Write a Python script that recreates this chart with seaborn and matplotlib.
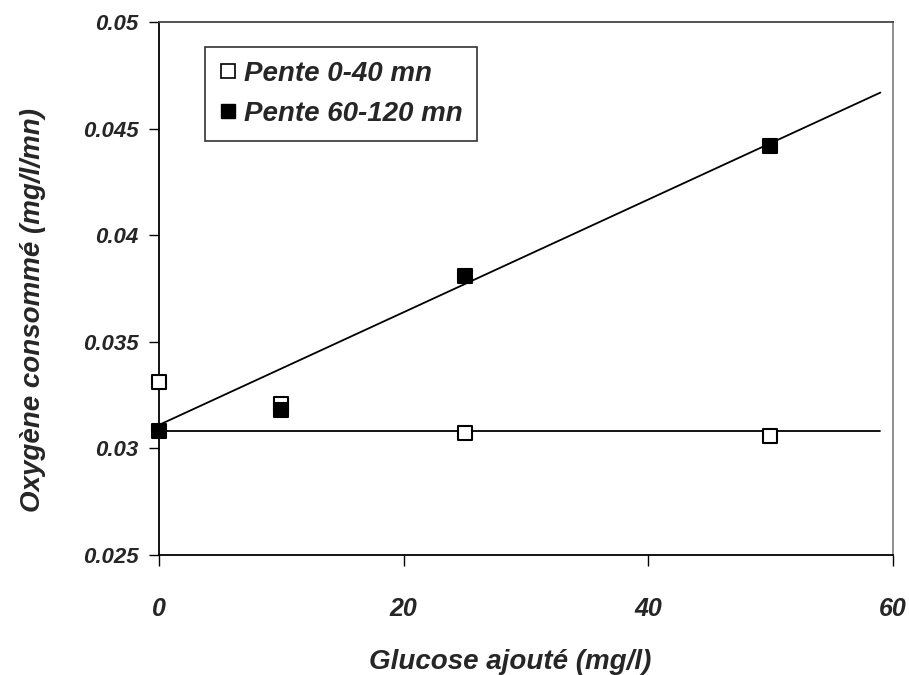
import matplotlib
matplotlib.use("Agg")
import matplotlib.pyplot as plt
from matplotlib.lines import Line2D
import seaborn as sns
import pandas as pd

# Glucose added (mg/l) and oxygen uptake slopes (mg/l/mn)
glucose = [0, 10, 25, 50]
slope_0_40 = [0.0331, 0.0321, 0.0307, 0.0306]
slope_60_120 = [0.0308, 0.0318, 0.0381, 0.0442]

# Trend lines (start / end of each line)
trend_x = [0, 59]
trend_60_120 = [0.0311, 0.0467]
trend_0_40 = [0.0308, 0.0308]

series_names = ["Pente 0-40 mn", "Pente 60-120 mn"]
x_ticks = [0, 20, 40, 60]
y_ticks = [0.025, 0.03, 0.035, 0.04, 0.045, 0.05]
y_tick_labels = ["0.025", "0.03", "0.035", "0.04", "0.045", "0.05"]

sns.set_theme(style="white")
plt.rcParams["font.family"] = ["Liberation Sans", "DejaVu Sans"]

df = pd.DataFrame({
    "glucose": glucose * 2,
    "o2": slope_0_40 + slope_60_120,
    "serie": [series_names[0]] * 4 + [series_names[1]] * 4,
})
fit = pd.DataFrame({
    "x": trend_x * 2,
    "y": trend_0_40 + trend_60_120,
    "serie": [series_names[0]] * 2 + [series_names[1]] * 2,
})

fig = plt.figure(figsize=(9.09, 6.75), dpi=100)
ax = fig.add_axes([0.175, 0.178, 0.807, 0.789])

sns.lineplot(data=fit, x="x", y="y", units="serie", estimator=None,
             color="black", linewidth=1.3, ax=ax, legend=False)

sub0 = df[df["serie"] == series_names[0]]
sub1 = df[df["serie"] == series_names[1]]
sns.scatterplot(data=sub0, x="glucose", y="o2", marker="s", s=110,
                facecolor="white", edgecolor="black", linewidth=1.5,
                ax=ax, legend=False, zorder=3, clip_on=False)
sns.scatterplot(data=sub1, x="glucose", y="o2", marker="s", s=110,
                color="black", edgecolor="black", linewidth=1.5,
                ax=ax, legend=False, zorder=4, clip_on=False)

ax.set_xlim(0, 60)
ax.set_ylim(0.025, 0.05)
ax.set_xticks(x_ticks)
ax.set_yticks(y_ticks)
ax.set_yticklabels(y_tick_labels)

for lab in ax.get_yticklabels():
    lab.set(fontsize=16, fontweight="bold", fontstyle="italic")
for lab in ax.get_xticklabels():
    lab.set(fontsize=18, fontweight="bold", fontstyle="italic",
            family=["Liberation Sans Narrow", "Liberation Sans", "DejaVu Sans"])

ax.tick_params(axis="y", direction="out", length=7, width=1, color="black",
               left=True, pad=8)
ax.tick_params(axis="x", direction="out", length=8, width=1, color="black",
               bottom=True, pad=22)

for side in ["left", "bottom"]:
    ax.spines[side].set_color("black")
    ax.spines[side].set_linewidth(1.3)
ax.spines["top"].set_color("#444444")
ax.spines["top"].set_linewidth(1.3)
ax.spines["right"].set_color("#888888")
ax.spines["right"].set_linewidth(1.3)

ax.set_xlabel("Glucose ajouté (mg/l)", fontsize=20, fontweight="bold",
              fontstyle="italic")
ax.set_ylabel("Oxygène consommé (mg/l/mn)", fontsize=20, fontweight="bold",
              fontstyle="italic")
ax.xaxis.set_label_coords(0.478, -0.176)
ax.yaxis.set_label_coords(-0.154, 0.46)

handles = [
    Line2D([], [], marker="s", linestyle="none", markersize=10,
           markerfacecolor="white", markeredgecolor="black", markeredgewidth=1.2),
    Line2D([], [], marker="s", linestyle="none", markersize=10,
           markerfacecolor="black", markeredgecolor="black"),
]
leg = ax.legend(handles, series_names, loc="upper left",
                bbox_to_anchor=(0.063, 0.953), borderaxespad=0,
                frameon=True, fancybox=False,
                edgecolor="black", handlelength=0.6, handletextpad=0.3,
                borderpad=0.5, labelspacing=0.5,
                prop=dict(size=20, weight="bold", style="italic"))
leg.get_frame().set_linewidth(1.2)

fig.savefig("out.png", dpi=100, facecolor="white")
